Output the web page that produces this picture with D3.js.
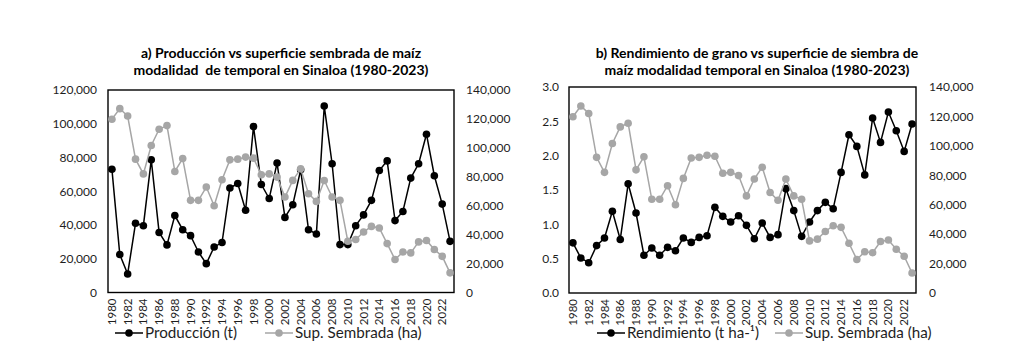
<!DOCTYPE html>
<html><head><meta charset="utf-8">
<script src="https://cdn.jsdelivr.net/npm/d3@7"></script>
<style>
body{margin:0;background:#fff}
svg{display:block}
text{font-family:Lato,'Liberation Sans',sans-serif}
</style>
</head><body>
<svg id="c" width="1017" height="356"></svg>
<script>
const years = d3.range(1980, 2024);
const produccion = [73000,22500,11000,41000,39600,78600,35600,28200,45600,37200,33700,24000,17100,27000,29600,61900,64600,48700,98300,64000,55700,76700,44500,52000,72700,37200,34700,110500,76300,28400,28400,39600,46000,54600,72300,78000,42600,48000,67800,76300,93800,69200,52400,30300];
const superficie = [119800,127100,122000,92200,82000,101600,112900,115400,83700,92600,63700,63700,72900,60000,77900,91700,92200,93600,92900,81400,82000,79800,66000,77500,85500,68300,63000,77400,66000,63700,35400,36600,41800,45700,44600,33800,22800,28000,27400,35000,36000,29700,25000,13600];
const rendimiento = [0.73,0.51,0.44,0.69,0.80,1.19,0.78,1.59,1.165,0.55,0.655,0.55,0.665,0.616,0.80,0.737,0.81,0.834,1.247,1.116,1.034,1.126,0.985,0.79,1.02,0.81,0.85,1.52,1.20,0.825,1.034,1.20,1.32,1.228,1.756,2.305,2.135,1.72,2.548,2.193,2.636,2.363,2.062,2.461];
const yearTicks = years.filter(y => y % 2 === 0);
const prodTicks = [0,20000,40000,60000,80000,100000,120000];
const rendTicks = [0,0.5,1.0,1.5,2.0,2.5,3.0];
const supTicks = [0,20000,40000,60000,80000,100000,120000,140000];
const titleA = ["a) Producción vs superficie sembrada de maíz", "modalidad\u00a0 de temporal en Sinaloa (1980-2023)"];
const titleB = ["b) Rendimiento de grano vs superficie de siembra de", "maíz modalidad temporal en Sinaloa (1980-2023)"];
const legendA = ["Producción (t)", "Sup. Sembrada (ha)"];
const legendB = ["Rendimiento (t ha-¹)", "Sup. Sembrada (ha)"];

const BLACK = "#000", GRAY = "#a6a6a6", TXT = "#1e1e1e";
const svg = d3.select("#c");

function panel(o) {
  const g = svg.append("g");
  const x = d3.scaleBand().domain(years).range([o.l, o.r]);
  const cx = d => x(d) + x.bandwidth() / 2;
  const yL = d3.scaleLinear().domain(o.leftDomain).range([o.b, o.t]);
  const yR = d3.scaleLinear().domain([0, 140000]).range([o.b, o.t]);

  o.title.forEach((t, i) => {
    g.append("text").attr("x", o.titleX).attr("y", 58 + i * 17)
      .attr("text-anchor", "middle").attr("font-size", 14).attr("font-weight", 700)
      .attr("fill", "#000").text(t);
  });

  const ax = g.append("g").attr("transform", `translate(${o.l},0)`)
    .call(d3.axisLeft(yL).tickValues(o.leftTicks).tickFormat(o.leftFmt).tickSize(0).tickPadding(o.padL));
  ax.select(".domain").remove();
  ax.selectAll("text").attr("font-size", 12).attr("fill", TXT).attr("font-family", "Lato,'Liberation Sans',sans-serif");

  const ar = g.append("g").attr("transform", `translate(${o.r},0)`)
    .call(d3.axisRight(yR).tickValues(supTicks).tickFormat(d3.format(",")).tickSize(0).tickPadding(o.padR));
  ar.select(".domain").remove();
  ar.selectAll("text").attr("font-size", 12).attr("fill", TXT).attr("font-family", "Lato,'Liberation Sans',sans-serif");

  const axb = g.append("g").attr("transform", `translate(0,${o.b})`)
    .call(d3.axisBottom(x).tickValues(yearTicks).tickSize(0));
  axb.select(".domain").remove();
  axb.selectAll("text").attr("font-size", 11.5).attr("fill", TXT)
    .attr("font-family", "Lato,'Liberation Sans',sans-serif")
    .attr("transform", "rotate(-90)").attr("text-anchor", "end")
    .attr("x", -6).attr("y", 0).attr("dy", "0.35em");

  g.append("rect").attr("x", o.l).attr("y", o.t).attr("width", o.r - o.l).attr("height", o.b - o.t)
    .attr("fill", "none").attr("stroke", "#000").attr("stroke-width", 1.4);

  const line1 = d3.line().x((d, i) => cx(years[i])).y(d => yL(d));
  g.append("path").datum(o.primary).attr("d", line1).attr("fill", "none")
    .attr("stroke", BLACK).attr("stroke-width", 1.5);
  g.selectAll(null).data(o.primary).enter().append("circle")
    .attr("cx", (d, i) => cx(years[i])).attr("cy", d => yL(d)).attr("r", 3.8).attr("fill", BLACK);

  const line2 = d3.line().x((d, i) => cx(years[i])).y(d => yR(d));
  g.append("path").datum(superficie).attr("d", line2).attr("fill", "none")
    .attr("stroke", GRAY).attr("stroke-width", 1.5);
  g.selectAll(null).data(superficie).enter().append("circle")
    .attr("cx", (d, i) => cx(years[i])).attr("cy", d => yR(d)).attr("r", 3.8).attr("fill", GRAY);

  const ly = 333;
  [[o.leg1, BLACK, o.legend[0]], [o.leg2, GRAY, o.legend[1]]].forEach(([lx, col, label]) => {
    g.append("line").attr("x1", lx).attr("x2", lx + 28).attr("y1", ly).attr("y2", ly)
      .attr("stroke", col).attr("stroke-width", 1.5);
    g.append("circle").attr("cx", lx + 14).attr("cy", ly).attr("r", 3.8).attr("fill", col);
    g.append("text").attr("x", lx + 30).attr("y", ly).attr("dy", "0.35em")
      .attr("font-size", 15.2).attr("fill", TXT).text(label);
  });
}

panel({l:108, r:454, t:90, b:292.5, leftDomain:[0,120000], leftTicks:prodTicks,
  leftFmt:d3.format(","), padL:11, padR:12, primary:produccion, title:titleA, titleX:281,
  legend:legendA, leg1:115, leg2:265});
panel({l:569, r:916, t:87, b:293, leftDomain:[0,3], leftTicks:rendTicks,
  leftFmt:d3.format(".1f"), padL:10, padR:13, primary:rendimiento, title:titleB, titleX:757,
  legend:legendB, leg1:597, leg2:775});
</script>
</body></html>
